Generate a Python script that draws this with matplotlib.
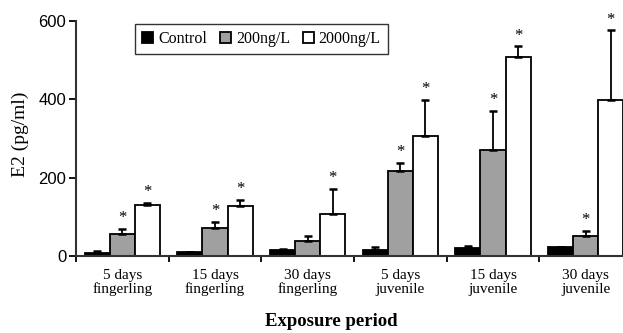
import matplotlib
matplotlib.use("Agg")
import matplotlib.pyplot as plt
import numpy as np

categories = ["5 days\nfingerling", "15 days\nfingerling", "30 days\nfingerling",
              "5 days\njuvenile", "15 days\njuvenile", "30 days\njuvenile"]
series = ["Control", "200ng/L", "2000ng/L"]
control = [8, 9, 15, 16, 20, 22]
control_err = [6, 2, 3, 7, 6, 0]
ng200 = [57, 71, 38, 216, 270, 52]
ng200_err = [12, 17, 12, 22, 100, 13]
ng2000 = [131, 128, 108, 306, 508, 398]
ng2000_err = [5, 16, 63, 92, 27, 178]
signif200 = [True, True, False, True, True, True]
signif2000 = [True, True, True, True, True, True]
yticks = [0, 200, 400, 600]

serif = ["Liberation Serif", "DejaVu Serif"]
sans = ["Liberation Sans", "DejaVu Sans"]

fig = plt.figure(figsize=(6.23, 3.33), dpi=100)
ax = fig.add_axes([76/623, 1-256/333, (632-76)/623, (256-21)/333])

x = np.arange(len(categories))
w = 0.27
offs = [-0.27, 0.0, 0.27]
colors = ["#000000", "#a0a0a0", "#ffffff"]
vals = [control, ng200, ng2000]
errs = [control_err, ng200_err, ng2000_err]
for k in range(3):
    ax.bar(x + offs[k], vals[k], w, color=colors[k], edgecolor="black",
           linewidth=1.3, label=series[k], zorder=2)
    e = np.array(errs[k])
    ax.errorbar(x + offs[k], vals[k], yerr=[np.zeros_like(e), e], fmt="none",
                ecolor="black", elinewidth=1.3, capsize=3, capthick=1.8, zorder=3)

for i in range(len(categories)):
    if signif200[i]:
        ax.annotate("*", (x[i] + offs[1], ng200[i] + ng200_err[i]), xytext=(0, 2),
                    textcoords="offset points", ha="center", va="bottom",
                    fontsize=12, family=serif)
    if signif2000[i]:
        ax.annotate("*", (x[i] + offs[2], ng2000[i] + ng2000_err[i]), xytext=(0, 2),
                    textcoords="offset points", ha="center", va="bottom",
                    fontsize=12, family=serif)

ax.set_xlim(-0.5, 5.5)
ax.set_ylim(0, 600)
ax.set_yticks(yticks)
ax.set_yticklabels([str(t) for t in yticks], family=sans, fontsize=12)
ax.set_xticks(np.arange(-0.5, 6.0, 1.0))
ax.set_xticklabels([])
ax.set_xticks(x, minor=True)
ax.set_xticklabels(categories, minor=True, family=serif, fontsize=11, linespacing=1.1)
ax.tick_params(axis="x", which="minor", length=0, pad=9)
ax.tick_params(axis="x", which="major", length=4, width=1.3, direction="out")
ax.tick_params(axis="y", length=5, width=1.3, direction="out", pad=2)
for s in ["top", "right"]:
    ax.spines[s].set_visible(False)
for s in ["left", "bottom"]:
    ax.spines[s].set_linewidth(1.5)
    ax.spines[s].set_color("#333333")

fig.text(20/623, 1-134/333, "E2 (pg/ml)", rotation=90, ha="center", va="center",
         family=serif, fontsize=14)
fig.text(331/623, 1-322/333, "Exposure period", ha="center", va="center",
         family=serif, fontsize=13.5, fontweight="bold")

leg = ax.legend(loc="upper left", bbox_to_anchor=((135-76)/556, 1-3/235), ncol=3,
                frameon=True, fancybox=False, edgecolor="black",
                prop={"family": serif, "size": 11.5}, handlelength=0.7,
                handleheight=0.7, handletextpad=0.3, columnspacing=0.8,
                borderpad=0.45, borderaxespad=0)
leg.get_frame().set_linewidth(1.0)

fig.savefig("out.png", dpi=100)
